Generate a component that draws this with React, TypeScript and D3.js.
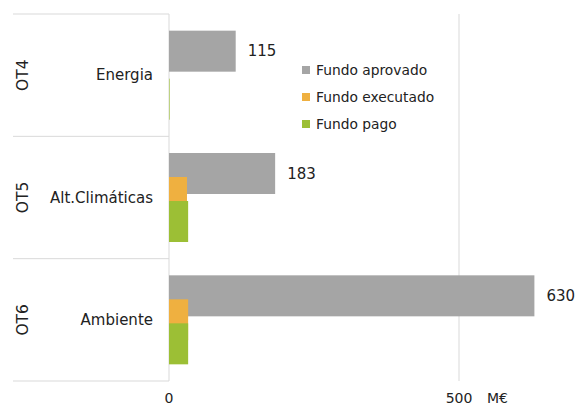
import React from "react";
import * as d3 from "d3";

const groups = ["OT4", "OT5", "OT6"];
const categories = ["Energia", "Alt.Climáticas", "Ambiente"];
const seriesNames = ["Fundo aprovado", "Fundo executado", "Fundo pago"];
const aprovado = [115, 183, 630];
const executado = [0, 31, 33];
const pago = [1, 33, 33];
const xTicks = [0, 500];
const unitLabel = "M€";
const colors = ["#a5a5a5", "#efb040", "#9cbf35"];

const W = 579;
const H = 409;
const FONT = "'DejaVu Sans', Verdana, sans-serif";

export default function App() {
  const x = d3.scaleLinear().domain([0, 500]).range([169, 459]);
  const y = d3.scaleBand<string>().domain(groups).range([14, 381]).padding(0);
  const series = [aprovado, executado, pago];
  const barH = 41;
  const offset = 24;

  return (
    <svg width={W} height={H} style={{ position: "absolute", left: 0, top: 0, background: "#fff" }}>
      <rect x={0} y={0} width={W} height={H} fill="#fff" />
      {xTicks.map((t) => (
        <line key={t} x1={x(t)} x2={x(t)} y1={14} y2={381} stroke="#d9d9d9" strokeWidth={1} />
      ))}
      {[...groups.map((g) => y(g)!), 381].map((yy, i) => (
        <line key={i} x1={13} x2={169} y1={yy} y2={yy} stroke="#d9d9d9" strokeWidth={1} />
      ))}
      {groups.map((g, gi) => {
        const c = y(g)! + y.bandwidth() / 2;
        const top = c - (barH + 2 * offset) / 2;
        return (
          <g key={g}>
            {series.map((s, si) => (
              <rect
                key={si}
                x={x(0)}
                y={top + si * offset}
                width={Math.max(0, x(s[gi]) - x(0))}
                height={barH}
                fill={colors[si]}
              />
            ))}
            <text
              x={x(aprovado[gi]) + 12}
              y={top + barH / 2}
              dy="0.35em"
              fontFamily={FONT}
              fontSize={15}
              fill="#222"
            >
              {aprovado[gi]}
            </text>
            <text
              x={153}
              y={c}
              dy="0.35em"
              textAnchor="end"
              fontFamily={FONT}
              fontSize={15}
              fill="#222"
            >
              {categories[gi]}
            </text>
            <text
              transform={`translate(23,${c}) rotate(-90)`}
              dy="0.35em"
              textAnchor="middle"
              fontFamily={FONT}
              fontSize={15.5}
              fill="#222"
            >
              {g}
            </text>
          </g>
        );
      })}
      {xTicks.map((t) => (
        <text key={t} x={x(t)} y={398} dy="0.35em" textAnchor="middle" fontFamily={FONT} fontSize={14} fill="#222">
          {t}
        </text>
      ))}
      <text x={487} y={398} dy="0.35em" fontFamily={FONT} fontSize={14} fill="#222">
        {unitLabel}
      </text>
      {seriesNames.map((n, i) => (
        <g key={n} transform={`translate(302,${70 + i * 27})`}>
          <rect x={0} y={-4} width={8} height={8} fill={colors[i]} />
          <text x={14} y={0} dy="0.35em" fontFamily={FONT} fontSize={13.8} fill="#222">
            {n}
          </text>
        </g>
      ))}
    </svg>
  );
}
